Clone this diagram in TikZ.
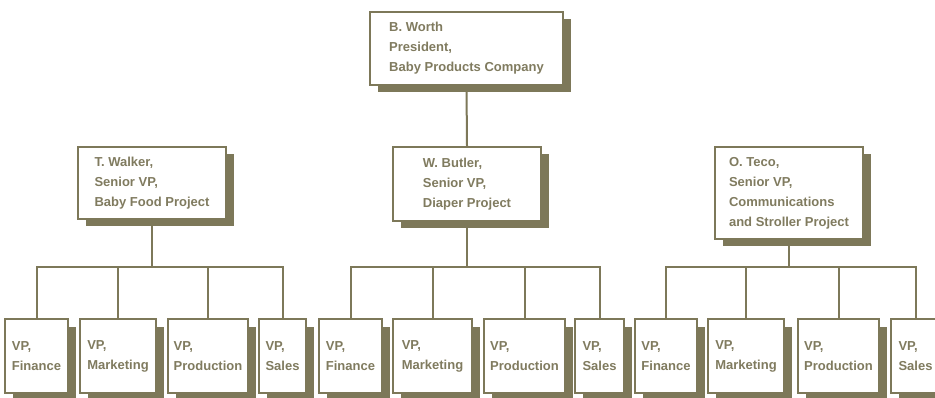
\documentclass[tikz,border=0pt]{standalone}
\usepackage{fontspec}
\setmainfont{Liberation Sans}
\usepackage{xcolor}
\usetikzlibrary{shadows}
\definecolor{olivegray}{RGB}{125,120,89}
\definecolor{olivetext}{RGB}{128,123,95}

\begin{document}
\begin{tikzpicture}[x=1pt, y=-1pt, line width=2pt,
		box/.style={draw=olivegray, fill=white, align=left,
			text=olivetext, font=\bfseries\fontsize{13}{20}\selectfont,
			general shadow={shadow xshift=7.5pt, shadow yshift=-7.5pt, fill=olivegray},
			inner sep=0pt},
		vpbox/.style={box, minimum height=74pt}]
		\useasboundingbox (0,0) rectangle (935,398);

		\node[box, minimum width=193pt, minimum height=73pt] (bw) at (466.5,48.5)
			{B. Worth\\President,\\Baby Products Company};

		\node[box, minimum width=148pt, minimum height=72pt] (tw) at (152,183)
			{T. Walker,\\Senior VP,\\Baby Food Project};
		\node[box, minimum width=148pt, minimum height=74pt] (wb) at (467,184)
			{W. Butler,\\Senior VP,\\Diaper Project};
		\node[box, minimum width=148pt, minimum height=92pt] (ot) at (789,193)
			{O. Teco,\\Senior VP,\\Communications\\and Stroller Project};

		% baby food
		\node[vpbox, minimum width=63pt] (fin1) at (36.5,356) {VP,\\Finance};
		\node[vpbox, minimum width=76pt] (mkt1) at (118,356) {VP,\\Marketing};
		\node[vpbox, minimum width=80pt] (prd1) at (208,356) {VP,\\Production};
		\node[vpbox, minimum width=47pt] (sal1) at (282.5,356) {VP,\\Sales};
		% diaper
		\node[vpbox, minimum width=63pt] (fin2) at (350.5,356) {VP,\\Finance};
		\node[vpbox, minimum width=79pt] (mkt2) at (432.5,356) {VP,\\Marketing};
		\node[vpbox, minimum width=81pt] (prd2) at (524.5,356) {VP,\\Production};
		\node[vpbox, minimum width=49pt] (sal2) at (599.5,356) {VP,\\Sales};
		% communications and stroller
		\node[vpbox, minimum width=62pt] (fin3) at (666,356) {VP,\\Finance};
		\node[vpbox, minimum width=76pt] (mkt3) at (746,356) {VP,\\Marketing};
		\node[vpbox, minimum width=81pt] (prd3) at (838.5,356) {VP,\\Production};
		\node[vpbox, minimum width=49pt] (sal3) at (915.5,356) {VP,\\Sales};

		\coordinate (bar1) at (152,267);
		\coordinate (bar2) at (467,267);
		\coordinate (bar3) at (789,267);

		\begin{scope}[draw=olivegray]
			\draw (bw.south) -- (wb.north);
			\draw (tw.south) -- (bar1);
			\draw (wb.south) -- (bar2);
			\draw (ot.south) -- (bar3);
			\draw (fin1.north) |- (bar1);
			\draw (mkt1.north) |- (bar1);
			\draw (prd1.north) |- (bar1);
			\draw (sal1.north) |- (bar1);
			\draw (fin2.north) |- (bar2);
			\draw (mkt2.north) |- (bar2);
			\draw (prd2.north) |- (bar2);
			\draw (sal2.north) |- (bar2);
			\draw (fin3.north) |- (bar3);
			\draw (mkt3.north) |- (bar3);
			\draw (prd3.north) |- (bar3);
			\draw (sal3.north) |- (bar3);
		\end{scope}
	\end{tikzpicture}
\end{document}
